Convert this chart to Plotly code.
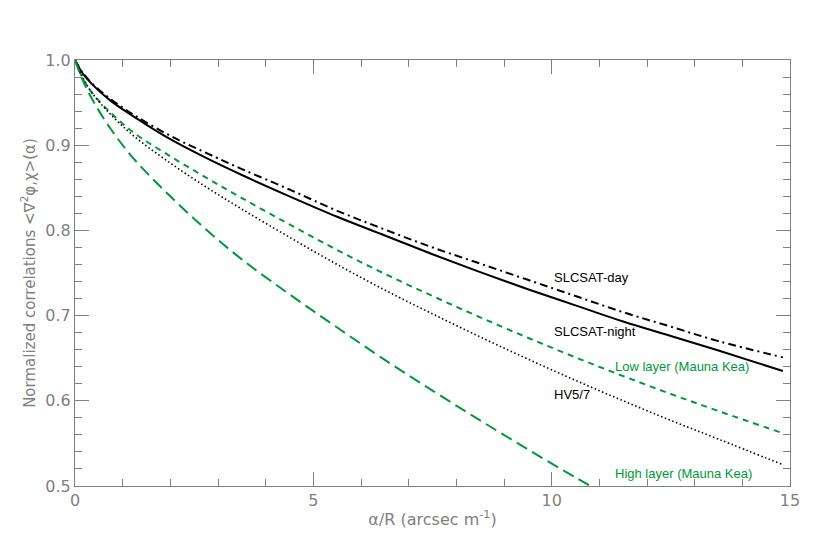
import plotly.graph_objects as go

x_curve = [0, 0.15, 0.35, 0.75, 1.25, 2, 2.75, 3.5, 4.5, 5.5, 6.5, 7.5, 8.5, 9.5, 10.5, 11.5, 12.5, 13.5, 14.85]

slcsat_day = [1.0, 0.986, 0.973, 0.954, 0.935, 0.911, 0.891, 0.872, 0.848, 0.823, 0.801, 0.780, 0.761,
              0.742, 0.723, 0.704, 0.687, 0.670, 0.651]
slcsat_night = [1.0, 0.985, 0.972, 0.952, 0.933, 0.907, 0.885, 0.865, 0.840, 0.816, 0.794, 0.772, 0.751,
                0.731, 0.712, 0.693, 0.676, 0.659, 0.635]
low_layer = [1.0, 0.980, 0.962, 0.938, 0.914, 0.887, 0.862, 0.838, 0.807, 0.777, 0.749, 0.723, 0.698,
             0.674, 0.651, 0.629, 0.608, 0.588, 0.562]
hv57 = [1.0, 0.981, 0.962, 0.936, 0.910, 0.879, 0.851, 0.825, 0.792, 0.760, 0.730, 0.702, 0.675,
        0.649, 0.624, 0.600, 0.577, 0.555, 0.525]

x_high = [0, 0.15, 0.35, 0.75, 1.25, 2, 2.75, 3.5, 4.5, 5.5, 6.5, 7.5, 8.5, 9.5, 10.5, 11.0]
high_layer = [1.0, 0.978, 0.955, 0.919, 0.883, 0.840, 0.801, 0.766, 0.725, 0.686, 0.648, 0.612, 0.577,
              0.543, 0.510, 0.494]

GREEN = "#00993a"
GREY = "#808080"

fig = go.Figure()

fig.add_trace(go.Scatter(x=x_curve, y=slcsat_day, mode="lines", line_shape="spline",
                         line=dict(color="black", width=2, dash="8px,4px,2px,4px")))
fig.add_trace(go.Scatter(x=x_curve, y=slcsat_night, mode="lines", line_shape="spline",
                         line=dict(color="black", width=2)))
fig.add_trace(go.Scatter(x=x_curve, y=low_layer, mode="lines", line_shape="spline",
                         line=dict(color=GREEN, width=2, dash="6px,5px")))
fig.add_trace(go.Scatter(x=x_curve, y=hv57, mode="lines", line_shape="spline",
                         line=dict(color="black", width=1.6, dash="1.5px,2.5px")))
fig.add_trace(go.Scatter(x=x_high, y=high_layer, mode="lines", line_shape="spline",
                         line=dict(color=GREEN, width=2, dash="12px,6px")))

labels = [
    (10.0, 0.745, "SLCSAT-day", "black"),
    (10.0, 0.681, "SLCSAT-night", "black"),
    (10.0, 0.607, "HV5/7", "black"),
    (11.29, 0.640, "Low layer (Mauna Kea)", GREEN),
    (11.29, 0.515, "High layer (Mauna Kea)", GREEN),
]
for lx, ly, txt, col in labels:
    fig.add_annotation(x=lx, y=ly, text=txt, showarrow=False, xanchor="left", yanchor="middle",
                       font=dict(family="Liberation Sans, Arial", size=13, color=col))

axis_common = dict(
    showgrid=False, zeroline=False, showline=True, linecolor=GREY, linewidth=1,
    mirror="ticks", ticks="inside", tickcolor=GREY, ticklen=14,
    tickfont=dict(family="DejaVu Sans", size=16, color=GREY),
)

fig.update_xaxes(
    range=[0, 15], dtick=5, tick0=0,
    minor=dict(dtick=1, ticks="inside", ticklen=7, tickcolor=GREY),
    title=dict(text="α/R (arcsec m<sup>-1</sup>)", font=dict(family="DejaVu Sans", size=16, color=GREY),
               standoff=4),
    **axis_common,
)
fig.update_yaxes(
    range=[0.5, 1.0], dtick=0.1, tick0=0.5, tickformat=".1f",
    minor=dict(dtick=0.02, ticks="inside", ticklen=7, tickcolor=GREY),
    title=dict(text="Normalized correlations &lt;∇<sup>2</sup>φ,χ&gt;(α)",
               font=dict(family="DejaVu Sans", size=15, color=GREY), standoff=6),
    **axis_common,
)

# page body has an 8px margin, so the figure is drawn slightly smaller
fig.update_layout(
    width=809, height=537,
    margin=dict(l=67, r=27, t=52, b=59),
    plot_bgcolor="white", paper_bgcolor="white",
    showlegend=False,
)

fig.write_html("out.html")
